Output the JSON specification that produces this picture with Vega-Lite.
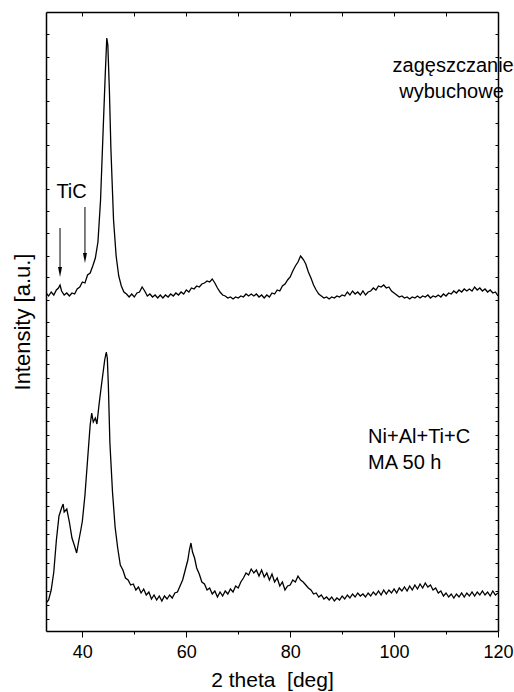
{
  "$schema": "https://vega.github.io/schema/vega-lite/v6.json",
  "autosize": {"type": "none"},
  "padding": {"left": 46, "top": 12, "right": 16, "bottom": 61},
  "width": 452,
  "height": 619,
  "background": "white",
  "config": {
    "view": {"stroke": null},
    "font": "Liberation Sans",
    "axis": {"domainColor": "black", "domainWidth": 1.5, "tickColor": "black", "tickWidth": 1, "labelColor": "black", "titleColor": "black", "grid": false, "labelFont": "Liberation Sans", "titleFont": "Liberation Sans", "titleFontWeight": "normal"}
  },
  "datasets": {
    "top": [
      {"x":33,"y":338},{"x":33.5,"y":335},{"x":34,"y":339},{"x":34.5,"y":336},{"x":35,"y":341},{"x":35.4,"y":343},{"x":35.7,"y":346},{"x":36,"y":340},{"x":36.5,"y":336},{"x":37,"y":338},{"x":37.5,"y":335},{"x":38,"y":338},{"x":38.5,"y":337},{"x":39,"y":342},{"x":39.5,"y":344},{"x":40,"y":349},{"x":40.5,"y":348},{"x":41,"y":356},{"x":41.5,"y":358},{"x":42,"y":365},{"x":42.5,"y":373},{"x":43,"y":389},{"x":43.5,"y":431},{"x":44,"y":501},{"x":44.4,"y":556},{"x":44.7,"y":593},{"x":44.9,"y":586},{"x":45.2,"y":541},{"x":45.5,"y":481},{"x":46,"y":411},{"x":46.5,"y":375},{"x":47,"y":355},{"x":47.5,"y":345},{"x":48,"y":339},{"x":48.5,"y":337},{"x":49,"y":334},{"x":49.5,"y":337},{"x":50,"y":334},{"x":50.5,"y":338},{"x":51,"y":339},{"x":51.5,"y":344},{"x":52,"y":340},{"x":52.5,"y":335},{"x":53,"y":337},{"x":53.5,"y":334},{"x":54,"y":336},{"x":54.5,"y":333},{"x":55,"y":336},{"x":55.5,"y":333},{"x":56,"y":336},{"x":56.5,"y":334},{"x":57,"y":337},{"x":57.5,"y":335},{"x":58,"y":338},{"x":58.5,"y":336},{"x":59,"y":339},{"x":59.5,"y":337},{"x":60,"y":341},{"x":60.5,"y":339},{"x":61,"y":343},{"x":61.5,"y":342},{"x":62,"y":345},{"x":62.5,"y":344},{"x":63,"y":347},{"x":63.5,"y":348},{"x":64,"y":350},{"x":64.5,"y":349},{"x":65,"y":352},{"x":65.5,"y":348},{"x":66,"y":343},{"x":66.5,"y":339},{"x":67,"y":336},{"x":67.5,"y":335},{"x":68,"y":333},{"x":68.5,"y":334},{"x":69,"y":332},{"x":69.5,"y":334},{"x":70,"y":333},{"x":70.5,"y":335},{"x":71,"y":334},{"x":71.5,"y":337},{"x":72,"y":335},{"x":72.5,"y":337},{"x":73,"y":335},{"x":73.5,"y":337},{"x":74,"y":334},{"x":74.5,"y":336},{"x":75,"y":333},{"x":75.5,"y":336},{"x":76,"y":334},{"x":76.5,"y":338},{"x":77,"y":337},{"x":77.5,"y":341},{"x":78,"y":340},{"x":78.5,"y":345},{"x":79,"y":347},{"x":79.5,"y":351},{"x":80,"y":354},{"x":80.5,"y":360},{"x":81,"y":365},{"x":81.5,"y":369},{"x":82,"y":375},{"x":82.3,"y":373},{"x":82.6,"y":371},{"x":83,"y":367},{"x":83.5,"y":359},{"x":84,"y":353},{"x":84.5,"y":346},{"x":85,"y":341},{"x":85.5,"y":337},{"x":86,"y":335},{"x":86.5,"y":333},{"x":87,"y":334},{"x":87.5,"y":332},{"x":88,"y":334},{"x":88.5,"y":333},{"x":89,"y":335},{"x":89.5,"y":334},{"x":90,"y":336},{"x":90.5,"y":335},{"x":91,"y":339},{"x":91.5,"y":336},{"x":92,"y":340},{"x":92.5,"y":337},{"x":93,"y":339},{"x":93.5,"y":336},{"x":94,"y":340},{"x":94.5,"y":336},{"x":95,"y":339},{"x":95.5,"y":340},{"x":96,"y":343},{"x":96.5,"y":341},{"x":97,"y":345},{"x":97.5,"y":344},{"x":98,"y":346},{"x":98.5,"y":343},{"x":99,"y":344},{"x":99.5,"y":340},{"x":100,"y":338},{"x":100.5,"y":336},{"x":101,"y":334},{"x":101.5,"y":335},{"x":102,"y":333},{"x":102.5,"y":334},{"x":103,"y":332},{"x":103.5,"y":334},{"x":104,"y":333},{"x":104.5,"y":335},{"x":105,"y":333},{"x":105.5,"y":335},{"x":106,"y":334},{"x":106.5,"y":336},{"x":107,"y":333},{"x":107.5,"y":335},{"x":108,"y":334},{"x":108.5,"y":336},{"x":109,"y":334},{"x":109.5,"y":337},{"x":110,"y":335},{"x":110.5,"y":338},{"x":111,"y":337},{"x":111.5,"y":340},{"x":112,"y":338},{"x":112.5,"y":341},{"x":113,"y":339},{"x":113.5,"y":342},{"x":114,"y":340},{"x":114.5,"y":342},{"x":115,"y":340},{"x":115.5,"y":344},{"x":116,"y":341},{"x":116.5,"y":343},{"x":117,"y":340},{"x":117.5,"y":342},{"x":118,"y":339},{"x":118.5,"y":341},{"x":119,"y":338},{"x":119.5,"y":339},{"x":120,"y":335}
    ],
    "bot": [
      {"x":33,"y":28},{"x":33.5,"y":31},{"x":34,"y":41},{"x":34.5,"y":59},{"x":35,"y":91},{"x":35.5,"y":115},{"x":36,"y":123},{"x":36.3,"y":127},{"x":36.5,"y":119},{"x":37,"y":122},{"x":37.5,"y":109},{"x":38,"y":93},{"x":38.5,"y":85},{"x":38.9,"y":78},{"x":39.3,"y":90},{"x":39.7,"y":101},{"x":40,"y":110},{"x":40.5,"y":136},{"x":41,"y":171},{"x":41.5,"y":206},{"x":41.8,"y":218},{"x":42.1,"y":209},{"x":42.5,"y":213},{"x":42.8,"y":207},{"x":43.2,"y":226},{"x":43.6,"y":243},{"x":44,"y":259},{"x":44.3,"y":271},{"x":44.6,"y":279},{"x":44.8,"y":273},{"x":45,"y":246},{"x":45.3,"y":188},{"x":45.8,"y":139},{"x":46.3,"y":104},{"x":46.8,"y":83},{"x":47.3,"y":66},{"x":47.8,"y":61},{"x":48.3,"y":53},{"x":48.8,"y":51},{"x":49.3,"y":46},{"x":49.8,"y":47},{"x":50.3,"y":41},{"x":50.8,"y":44},{"x":51.3,"y":38},{"x":51.8,"y":42},{"x":52.3,"y":36},{"x":52.8,"y":39},{"x":53.3,"y":32},{"x":53.8,"y":36},{"x":54.3,"y":31},{"x":54.8,"y":35},{"x":55.3,"y":30},{"x":55.8,"y":35},{"x":56.3,"y":32},{"x":56.8,"y":36},{"x":57.3,"y":33},{"x":57.8,"y":38},{"x":58.3,"y":39},{"x":58.8,"y":45},{"x":59.3,"y":51},{"x":59.8,"y":61},{"x":60.3,"y":71},{"x":60.6,"y":81},{"x":60.9,"y":88},{"x":61.2,"y":79},{"x":61.6,"y":73},{"x":62,"y":63},{"x":62.5,"y":57},{"x":63,"y":49},{"x":63.5,"y":47},{"x":64,"y":41},{"x":64.5,"y":43},{"x":65,"y":37},{"x":65.5,"y":40},{"x":66,"y":34},{"x":66.5,"y":39},{"x":67,"y":35},{"x":67.5,"y":40},{"x":68,"y":37},{"x":68.5,"y":42},{"x":69,"y":39},{"x":69.5,"y":45},{"x":70,"y":43},{"x":70.5,"y":49},{"x":71,"y":53},{"x":71.5,"y":58},{"x":72,"y":56},{"x":72.5,"y":62},{"x":73,"y":58},{"x":73.5,"y":61},{"x":74,"y":55},{"x":74.5,"y":61},{"x":75,"y":54},{"x":75.5,"y":58},{"x":76,"y":51},{"x":76.5,"y":57},{"x":77,"y":49},{"x":77.5,"y":53},{"x":78,"y":45},{"x":78.5,"y":49},{"x":79,"y":41},{"x":79.5,"y":45},{"x":80,"y":46},{"x":80.5,"y":51},{"x":81,"y":49},{"x":81.5,"y":55},{"x":82,"y":51},{"x":82.5,"y":49},{"x":83,"y":46},{"x":83.5,"y":43},{"x":84,"y":41},{"x":84.5,"y":37},{"x":85,"y":38},{"x":85.5,"y":34},{"x":86,"y":36},{"x":86.5,"y":32},{"x":87,"y":34},{"x":87.5,"y":31},{"x":88,"y":34},{"x":88.5,"y":30},{"x":89,"y":33},{"x":89.5,"y":31},{"x":90,"y":35},{"x":90.5,"y":32},{"x":91,"y":36},{"x":91.5,"y":33},{"x":92,"y":37},{"x":92.5,"y":34},{"x":93,"y":38},{"x":93.5,"y":35},{"x":94,"y":37},{"x":94.5,"y":34},{"x":95,"y":38},{"x":95.5,"y":35},{"x":96,"y":39},{"x":96.5,"y":36},{"x":97,"y":40},{"x":97.5,"y":36},{"x":98,"y":41},{"x":98.5,"y":37},{"x":99,"y":41},{"x":99.5,"y":38},{"x":100,"y":42},{"x":100.5,"y":38},{"x":101,"y":43},{"x":101.5,"y":40},{"x":102,"y":44},{"x":102.5,"y":40},{"x":103,"y":45},{"x":103.5,"y":41},{"x":104,"y":46},{"x":104.5,"y":42},{"x":105,"y":47},{"x":105.5,"y":43},{"x":106,"y":48},{"x":106.5,"y":44},{"x":107,"y":46},{"x":107.5,"y":41},{"x":108,"y":43},{"x":108.5,"y":38},{"x":109,"y":40},{"x":109.5,"y":35},{"x":110,"y":38},{"x":110.5,"y":34},{"x":111,"y":37},{"x":111.5,"y":33},{"x":112,"y":37},{"x":112.5,"y":34},{"x":113,"y":38},{"x":113.5,"y":34},{"x":114,"y":38},{"x":114.5,"y":35},{"x":115,"y":39},{"x":115.5,"y":35},{"x":116,"y":39},{"x":116.5,"y":36},{"x":117,"y":40},{"x":117.5,"y":36},{"x":118,"y":39},{"x":118.5,"y":35},{"x":119,"y":40},{"x":119.5,"y":36},{"x":120,"y":38}
    ],
    "arrows": [
      {"x":35.7,"y1":403,"y2":362,"tip":359},
      {"x":40.5,"y1":424,"y2":376,"tip":373}
    ],
    "labels": [
      {"x":35.0,"y":439,"text":"TiC"},
      {"x":99.7,"y":565,"text":"zagęszczanie"},
      {"x":101.0,"y":539,"text":"wybuchowe"},
      {"x":95.0,"y":194,"text":"Ni+Al+Ti+C"},
      {"x":95.0,"y":168,"text":"MA 50 h"}
    ]
  },
  "resolve": {"axis": {"x": "independent", "y": "independent"}},
  "layer": [
    {
      "data": {"name": "top"},
      "mark": {"type": "line", "color": "black", "strokeWidth": 1.3, "clip": true},
      "encoding": {
        "x": {"field": "x", "type": "quantitative", "scale": {"domain": [33, 120], "nice": false, "zero": false},
          "axis": {"orient": "bottom", "title": "2 theta\u00a0\u00a0[deg]", "values": [40,50,60,70,80,90,100,110,120],
            "tickSize": {"condition": {"test": "datum.value % 20 === 0", "value": 6}, "value": 3},
            "labelExpr": "datum.value % 20 === 0 ? datum.label : ''",
            "labelFontSize": 18, "labelPadding": 6, "labelBaseline": "top", "labelFlush": false,
            "titleFontSize": 21, "titleY": 55, "titleBaseline": "alphabetic"}},
        "y": {"field": "y", "type": "quantitative", "scale": {"domain": [0, 619], "nice": false, "zero": false},
          "axis": {"orient": "left", "title": "Intensity [a.u.]", "labels": false, "tickSize": -3,
            "values": [12,26,40,54,68,82,97,111,125,139,153,168,182,196,210,224,238,253,267,281,295,309,331,354,375,398,420,442,464,486,508,530,552,574,597],
            "titleFontSize": 22, "titleX": -17, "titleBaseline": "alphabetic", "titleAngle": -90}}
      }
    },
    {
      "data": {"name": "bot"},
      "mark": {"type": "line", "color": "black", "strokeWidth": 1.3, "clip": true},
      "encoding": {
        "x": {"field": "x", "type": "quantitative",
          "axis": {"orient": "top", "title": null, "labels": false, "tickSize": -4, "values": [40,50,60,70,80,90,100,110,120]}},
        "y": {"field": "y", "type": "quantitative",
          "axis": {"orient": "right", "title": null, "labels": false, "tickSize": -3,
            "values": [12,26,40,54,68,82,97,111,125,139,153,168,182,196,210,224,238,253,267,281,295,309,331,354,375,398,420,442,464,486,508,530,552,574,597]}}
      }
    },
    {
      "data": {"name": "arrows"},
      "mark": {"type": "rule", "color": "black", "strokeWidth": 1},
      "encoding": {
        "x": {"field": "x", "type": "quantitative", "axis": null},
        "y": {"field": "y1", "type": "quantitative", "axis": null},
        "y2": {"field": "y2"}
      }
    },
    {
      "data": {"name": "arrows"},
      "mark": {"type": "point", "shape": "M-0.4,-1L0.4,-1L0,1Z", "filled": true, "color": "black", "size": 100, "opacity": 1},
      "encoding": {
        "x": {"field": "x", "type": "quantitative", "axis": null},
        "y": {"field": "tip", "type": "quantitative", "axis": null}
      }
    },
    {
      "data": {"name": "labels"},
      "mark": {"type": "text", "align": "left", "baseline": "middle", "fontSize": 20, "font": "Liberation Sans", "color": "black"},
      "encoding": {
        "x": {"field": "x", "type": "quantitative", "axis": null},
        "y": {"field": "y", "type": "quantitative", "axis": null},
        "text": {"field": "text"}
      }
    }
  ]
}
